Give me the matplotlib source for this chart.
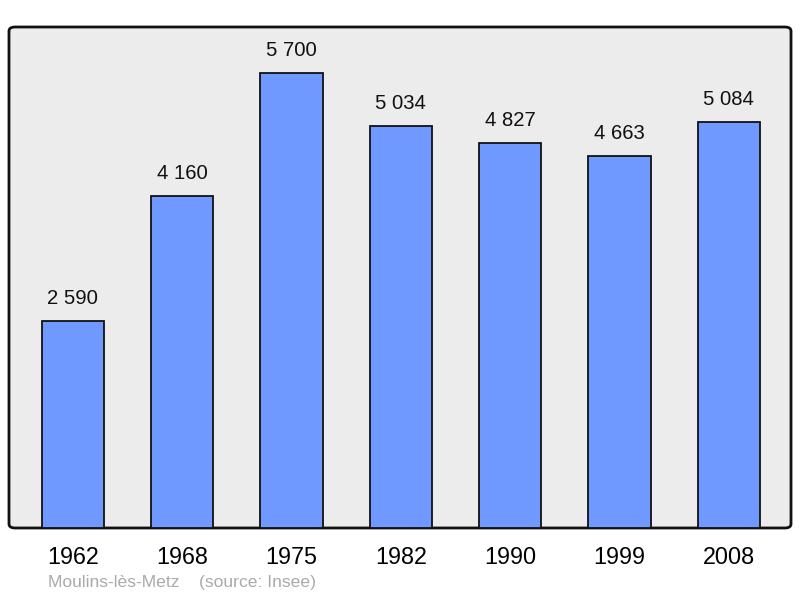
import matplotlib
matplotlib.use("Agg")
import matplotlib.pyplot as plt
from matplotlib.patches import FancyBboxPatch

years = ["1962", "1968", "1975", "1982", "1990", "1999", "2008"]
population = [2590, 4160, 5700, 5034, 4827, 4663, 5084]
value_labels = ["2 590", "4 160", "5 700", "5 034", "4 827", "4 663", "5 084"]

plt.rcParams['font.family'] = ['Liberation Sans', 'DejaVu Sans']

W, H = 800, 598
fig = plt.figure(figsize=(W / 100, H / 100), dpi=100)
ax_l, ax_r, ax_t, ax_b = 9, 791, 27, 528
ax = fig.add_axes([ax_l / W, 1 - ax_b / H, (ax_r - ax_l) / W, (ax_b - ax_t) / H])
ax.set_facecolor("none")
for s in ax.spines.values():
    s.set_visible(False)

# rounded frame background
frame = FancyBboxPatch((0, 0), 1, 1, boxstyle="round,pad=0,rounding_size=0.008",
                       transform=ax.transAxes, facecolor="#ececec", edgecolor="#111111",
                       linewidth=2.0, zorder=0, clip_on=False)
ax.add_patch(frame)

x = list(range(len(years)))
ax.bar(x, population, width=0.57, color="#7099ff", edgecolor="#111111", linewidth=1.3, zorder=2)
for xi, v, lab in zip(x, population, value_labels):
    ax.text(xi, v + 165, lab, ha="center", va="bottom", fontsize=14.6, color="#111111", zorder=3)

ax.set_xlim(-0.585, 6.57)
ax.set_ylim(0, 6280)
ax.set_yticks([])
ax.set_xticks(x)
ax.set_xticklabels(years, fontsize=16.8)
ax.tick_params(axis="x", length=0, pad=13)

fig.text(48 / W, 1 - 583 / H, "Moulins-lès-Metz    (source: Insee)", fontsize=12.6,
         color="#aaaaaa", ha="left", va="center")

fig.savefig("out.png", dpi=100)
